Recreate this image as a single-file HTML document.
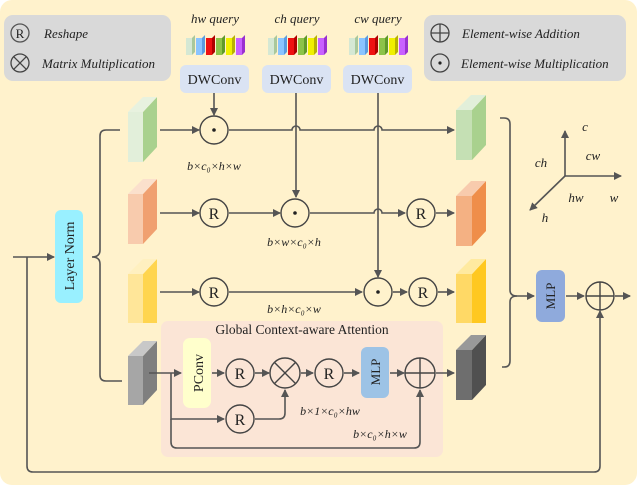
<!DOCTYPE html>
<html><head><meta charset="utf-8"><style>
html,body{margin:0;padding:0;background:#fff;}
svg{display:block;}
text{font-family:"Liberation Serif",serif;fill:#222;}
.it{font-style:italic;}
</style></head><body>
<svg width="640" height="487" viewBox="0 0 640 487" xmlns="http://www.w3.org/2000/svg">
<defs>
<marker id="a" markerWidth="8" markerHeight="8" refX="7" refY="4" orient="auto" markerUnits="userSpaceOnUse"><path d="M0,0 L8,4 L0,8 z" fill="#555"/></marker>
</defs>
<rect x="0" y="0" width="637" height="485" rx="12" fill="#fff2cc"/>
<!-- legends -->
<rect x="4" y="15" width="167" height="66" rx="9" fill="#d9d9d9"/>
<circle cx="20" cy="33" r="9" fill="none" stroke="#555" stroke-width="1.3"/><text x="20" y="38" font-size="13" text-anchor="middle" fill="#555">R</text>
<text x="44" y="38" font-size="13" class="it">Reshape</text>
<circle cx="20" cy="63" r="9" fill="none" stroke="#444" stroke-width="1.3"/><path d="M13.6,56.6 L26.4,69.4 M26.4,56.6 L13.6,69.4" stroke="#444" stroke-width="1.3"/>
<text x="42" y="68" font-size="13" class="it">Matrix Multiplication</text>
<rect x="424" y="15" width="202" height="66" rx="9" fill="#d9d9d9"/>
<circle cx="440" cy="33" r="9" fill="none" stroke="#444" stroke-width="1.3"/><path d="M431,33 H449 M440,24 V42" stroke="#444" stroke-width="1.3"/>
<text x="462" y="38" font-size="13" class="it">Element-wise Addition</text>
<circle cx="440" cy="63" r="9" fill="none" stroke="#444" stroke-width="1.3"/><circle cx="440" cy="63" r="1.6" fill="#222"/>
<text x="461" y="68" font-size="13" class="it">Element-wise Multiplication</text>
<!-- queries -->
<text x="215" y="23" font-size="13" class="it" text-anchor="middle">hw query</text>
<text x="297" y="23" font-size="13" class="it" text-anchor="middle">ch query</text>
<text x="378" y="23" font-size="13" class="it" text-anchor="middle">cw query</text>
<g id="q">
<g><polygon points="186,38 192,38 192,55 186,55" fill="#d5e8d4"/><polygon points="192,38 195,35 195,52 192,55" fill="#a9c89c"/></g>
<g><polygon points="196,38 202,38 202,55 196,55" fill="#8ac4ff"/><polygon points="202,38 205,35 205,52 202,55" fill="#5a9be0"/></g>
<g><polygon points="206,38 212,38 212,55 206,55" fill="#ee1111"/><polygon points="212,38 215,35 215,52 212,55" fill="#b00000"/></g>
<g><polygon points="216,38 222,38 222,55 216,55" fill="#8cc34a"/><polygon points="222,38 225,35 225,52 222,55" fill="#5f9a2a"/></g>
<g><polygon points="226,38 232,38 232,55 226,55" fill="#f0f000"/><polygon points="232,38 235,35 235,52 232,55" fill="#b9b300"/></g>
<g><polygon points="236,38 242,38 242,55 236,55" fill="#c860ff"/><polygon points="242,38 245,35 245,52 242,55" fill="#9a30d0"/></g>
</g>
<use href="#q" x="82"/><use href="#q" x="163"/>
<!-- DWConv -->
<rect x="180" y="65" width="69" height="28" rx="6" fill="#dae3f3"/><text x="214.5" y="84" font-size="14" text-anchor="middle">DWConv</text>
<rect x="262" y="65" width="69" height="28" rx="6" fill="#dae3f3"/><text x="296.5" y="84" font-size="14" text-anchor="middle">DWConv</text>
<rect x="343" y="65" width="69" height="28" rx="6" fill="#dae3f3"/><text x="377.5" y="84" font-size="14" text-anchor="middle">DWConv</text>
<!-- cubes -->
<g stroke="none">
<polygon points="128,112 143,112 143,162 128,162" fill="#e2efda"/><polygon points="143,112 157,97 157,147 143,162" fill="#a9d18e"/><polygon points="128,112 143,97 157,97 143,112" fill="#e8f2df"/>
<polygon points="456,110 472,110 472,160 456,160" fill="#c5e0b4"/><polygon points="472,110 486,95 486,145 472,160" fill="#a9d18e"/><polygon points="456,110 471,95 486,95 472,110" fill="#e2efda"/>
<polygon points="128,194 143,194 143,244 128,244" fill="#f8cbad"/><polygon points="143,194 157,179 157,229 143,244" fill="#f0a070"/><polygon points="128,194 143,179 157,179 143,194" fill="#fbe0cc"/>
<polygon points="456,196 472,196 472,246 456,246" fill="#f4b183"/><polygon points="472,196 486,181 486,231 472,246" fill="#ef8e4a"/><polygon points="456,196 471,181 486,181 472,196" fill="#f8cbad"/>
<polygon points="128,274 143,274 143,323 128,323" fill="#ffe699"/><polygon points="143,274 157,259 157,323 143,323" fill="#ffd54f"/><polygon points="128,274 143,259 157,259 143,274" fill="#fff0c0"/>
<polygon points="456,274 472,274 472,323 456,323" fill="#ffd966"/><polygon points="472,274 486,259 486,323 472,323" fill="#ffc820"/><polygon points="456,274 471,259 486,259 472,274" fill="#ffeaa0"/>
<polygon points="128,356 143,356 143,405 128,405" fill="#a6a6a6"/><polygon points="143,356 157,341 157,390 143,405" fill="#7f7f7f"/><polygon points="128,356 143,341 157,341 143,356" fill="#c8c8c8"/>
<polygon points="456,350 472,350 472,400 456,400" fill="#6e6e6e"/><polygon points="472,350 486,335 486,385 472,400" fill="#505050"/><polygon points="456,350 471,335 486,335 472,350" fill="#999"/>
</g>
<!-- GCA box -->
<rect x="161" y="321" width="282" height="136" rx="7" fill="#fbe5d6"/>
<text x="302" y="334" font-size="13.5" text-anchor="middle">Global Context-aware Attention</text>
<!-- Layer Norm -->
<rect x="55" y="210" width="28" height="93" rx="6" fill="#99f0ff"/>
<text transform="translate(74,256) rotate(-90)" font-size="14" text-anchor="middle">Layer Norm</text>
<g fill="none" stroke="#555" stroke-width="1.6">
<!-- input -->
<path d="M13,257 H54" marker-end="url(#a)"/>
<path d="M27,257 V466 Q27,472 33,472 H594 Q600,472 600,466 V311" marker-end="url(#a)"/>
<!-- brace left -->
<path d="M120,130 H106 Q100,130 100,136 V250 Q100,257 92,257 Q100,257 100,264 V375 Q100,381 106,381 H122"/>
<!-- row1 -->
<path d="M160,130 H199" marker-end="url(#a)"/>
<path d="M214,93 V115" marker-end="url(#a)"/>
<path d="M229,130 H292 A4,4 0 0 1 300,130 H374 A4,4 0 0 1 382,130 H454" marker-end="url(#a)"/>
<!-- verticals -->
<path d="M296,93 V197" marker-end="url(#a)"/>
<path d="M378,93 V277" marker-end="url(#a)"/>
<!-- row2 -->
<path d="M160,213 H199" marker-end="url(#a)"/>
<path d="M229,213 H280" marker-end="url(#a)"/>
<path d="M310,213 H374 A4,4 0 0 1 382,213 H405" marker-end="url(#a)"/>
<path d="M436,213 H454" marker-end="url(#a)"/>
<!-- row3 -->
<path d="M160,292 H199" marker-end="url(#a)"/>
<path d="M229,292 H362" marker-end="url(#a)"/>
<path d="M393,292 H407" marker-end="url(#a)"/>
<path d="M438,292 H454" marker-end="url(#a)"/>
<!-- row4 -->
<path d="M149,373 H181" marker-end="url(#a)"/>
<path d="M212,373 H224" marker-end="url(#a)"/>
<path d="M255,373 H269" marker-end="url(#a)"/>
<path d="M301,373 H313" marker-end="url(#a)"/>
<path d="M344,373 H359" marker-end="url(#a)"/>
<path d="M390,373 H404" marker-end="url(#a)"/>
<path d="M436,373 H454" marker-end="url(#a)"/>
<path d="M171,373 V419 H224" marker-end="url(#a)"/>
<path d="M255,419 H279 Q285,419 285,413 V390" marker-end="url(#a)"/>
<path d="M171,419 V442 Q171,448 177,448 H414 Q420,448 420,442 V390" marker-end="url(#a)"/>
<!-- right brace -->
<path d="M500,118 H504 Q510,118 510,124 V290 Q510,296 517,296 H534" marker-end="url(#a)"/>
<path d="M502,367 H504 Q510,367 510,361 V302 Q510,296 517,296"/>
<path d="M566,296 H584" marker-end="url(#a)"/>
<path d="M615,296 H630" marker-end="url(#a)"/>
<!-- axes -->
<path d="M565,176 V131" marker-end="url(#a)"/>
<path d="M565,176 H621" marker-end="url(#a)"/>
<path d="M565,176 L530,210" marker-end="url(#a)"/>
</g>
<!-- ops -->
<g fill="#fff2cc" stroke="#444" stroke-width="1.4">
<circle cx="214" cy="130" r="14"/>
<circle cx="214" cy="213" r="14"/><circle cx="295" cy="213" r="14"/><circle cx="421" cy="213" r="14"/>
<circle cx="214" cy="292" r="14"/><circle cx="378" cy="292" r="14"/><circle cx="423" cy="292" r="14"/>
<circle cx="600" cy="296" r="14"/>
</g>
<g fill="#fbe5d6" stroke="#444" stroke-width="1.4">
<circle cx="240" cy="373" r="14"/><circle cx="285" cy="373" r="15"/><circle cx="329" cy="373" r="14"/><circle cx="420" cy="373" r="15"/><circle cx="240" cy="419" r="14"/>
</g>
<g fill="#222"><circle cx="214" cy="130" r="1.8"/><circle cx="295" cy="213" r="1.8"/><circle cx="378" cy="292" r="1.8"/></g>
<g stroke="#444" stroke-width="1.4">
<path d="M274.4,362.4 L295.6,383.6 M295.6,362.4 L274.4,383.6"/>
<path d="M405,373 H435 M420,358 V388"/>
<path d="M586,296 H614 M600,282 V310"/>
</g>
<g font-size="16" text-anchor="middle" fill="#666">
<text x="214" y="219" fill="#666">R</text><text x="421" y="219" fill="#666">R</text>
<text x="214" y="298" fill="#666">R</text><text x="423" y="298" fill="#666">R</text>
<text x="240" y="379" fill="#666">R</text><text x="329" y="379" fill="#666">R</text><text x="240" y="425" fill="#666">R</text>
</g>
<!-- PConv, MLPs -->
<rect x="183" y="338" width="28" height="70" rx="7" fill="#ffffcc"/>
<text transform="translate(203,373) rotate(-90)" font-size="14" text-anchor="middle">PConv</text>
<rect x="361" y="347" width="28" height="51" rx="6" fill="#9dc3e6"/>
<text transform="translate(380,372) rotate(-90)" font-size="13" text-anchor="middle">MLP</text>
<rect x="536" y="270" width="29" height="52" rx="6" fill="#8faadc"/>
<text transform="translate(555,296) rotate(-90)" font-size="13" text-anchor="middle">MLP</text>
<!-- dim labels -->
<g font-size="12" class="it" text-anchor="middle">
<text x="214" y="170">b×c₀×h×w</text>
<text x="294" y="246">b×w×c₀×h</text>
<text x="294" y="313">b×h×c₀×w</text>
<text x="330" y="415">b×1×c₀×hw</text>
<text x="380" y="438">b×c₀×h×w</text>
</g>
<g font-size="13" class="it" text-anchor="middle">
<text x="585" y="131">c</text><text x="593" y="160">cw</text><text x="541" y="167">ch</text>
<text x="576" y="202">hw</text><text x="614" y="202">w</text><text x="545" y="222">h</text>
</g>
</svg>
</body></html>
